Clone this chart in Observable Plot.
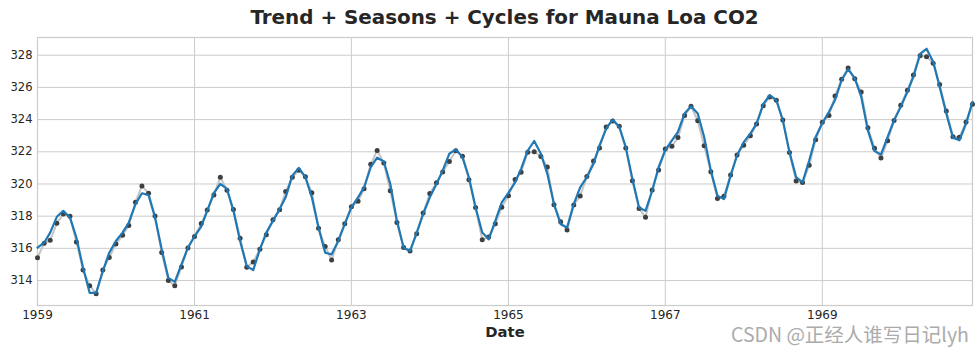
<!DOCTYPE html>
<html>
<head>
<meta charset="utf-8">
<script src="https://cdn.jsdelivr.net/npm/d3@7"></script>
<script src="https://cdn.jsdelivr.net/npm/@observablehq/plot@0.6"></script>
<style>
  body { margin: 0; background: #fff; }
  #wrap { position: relative; width: 980px; height: 351px; }
  #title { height: 30px; line-height: 36px; font-family: "DejaVu Sans", sans-serif; font-weight: bold;
           font-size: 19.9px; color: #262626; text-align: center; padding-left: 37px; padding-right: 8px; white-space: nowrap; }
  #wm { position: absolute; left: 731px; top: 324px; line-height: 1; font-family: "Noto Sans CJK SC", "Noto Sans", sans-serif;
        font-size: 19.5px; color: #ababab; white-space: nowrap; }
</style>
</head>
<body>
<div id="wrap">
  <div id="title">Trend + Seasons + Cycles for Mauna Loa CO2</div>
  <div id="chart"></div>
  <div id="wm">CSDN @正经人谁写日记lyh</div>
</div>
<script>
// Observed monthly CO2 (ppm), Jan 1959 – Dec 1970
const co2 = [
  315.42, 316.31, 316.50, 317.56, 318.13, 318.00, 316.39, 314.65, 313.68, 313.18, 314.66, 315.43,
  316.27, 316.81, 317.42, 318.87, 319.87, 319.43, 318.01, 315.74, 314.00, 313.68, 314.84, 316.03,
  316.73, 317.54, 318.38, 319.31, 320.42, 319.61, 318.42, 316.63, 314.83, 315.16, 315.94, 316.85,
  317.78, 318.40, 319.53, 320.42, 320.85, 320.45, 319.45, 317.25, 316.11, 315.27, 316.53, 317.53,
  318.58, 318.92, 319.70, 321.22, 322.08, 321.31, 319.58, 317.61, 316.05, 315.83, 316.91, 318.20,
  319.41, 320.07, 320.74, 321.40, 322.06, 321.73, 320.27, 318.54, 316.54, 316.71, 317.53, 318.55,
  319.27, 320.28, 320.73, 321.97, 322.00, 321.71, 321.05, 318.71, 317.66, 317.14, 318.70, 319.25,
  320.46, 321.43, 322.23, 323.54, 323.91, 323.59, 322.24, 320.20, 318.48, 317.94, 319.63, 320.87,
  322.17, 322.34, 322.88, 324.25, 324.83, 323.93, 322.38, 320.76, 319.10, 319.24, 320.56, 321.80,
  322.40, 322.99, 323.73, 324.86, 325.40, 325.20, 323.98, 321.95, 320.18, 320.09, 321.16, 322.74,
  323.83, 324.26, 325.47, 326.50, 327.21, 326.54, 325.72, 323.50, 322.22, 321.62, 322.69, 323.95,
  324.89, 325.82, 326.77, 327.97, 327.91, 327.50, 326.18, 324.53, 322.93, 322.90, 323.85, 324.96
];
// Fitted: trend + seasons + cycles
const fitted = [
  316.04, 316.35, 316.98, 317.96, 318.33, 317.92, 316.67, 314.79, 313.23, 313.23, 314.58, 315.73,
  316.46, 316.98, 317.60, 318.75, 319.42, 319.31, 317.92, 315.94, 314.17, 313.92, 315.00, 316.04,
  316.75, 317.35, 318.33, 319.44, 320.00, 319.69, 318.33, 316.46, 314.90, 314.65, 315.94, 316.98,
  317.71, 318.44, 319.17, 320.52, 321.00, 320.42, 319.17, 317.29, 315.73, 315.63, 316.46, 317.50,
  318.55, 319.17, 319.79, 321.04, 321.63, 321.40, 320.00, 317.71, 316.04, 315.83, 316.98, 318.13,
  319.17, 320.00, 320.83, 321.88, 322.15, 321.67, 320.42, 318.54, 316.98, 316.56, 317.71, 318.85,
  319.45, 320.10, 320.94, 322.08, 322.67, 321.88, 320.63, 318.75, 317.50, 317.29, 318.75, 319.79,
  320.42, 321.25, 322.40, 323.44, 324.00, 323.54, 322.29, 320.31, 318.54, 318.33, 319.58, 321.04,
  322.10, 322.71, 323.23, 324.38, 324.83, 324.38, 322.92, 320.83, 319.27, 319.06, 320.52, 321.77,
  322.60, 323.13, 323.75, 324.96, 325.52, 325.21, 323.96, 321.98, 320.42, 320.10, 321.46, 322.92,
  323.79, 324.48, 325.21, 326.46, 327.13, 326.56, 325.42, 323.33, 322.04, 321.83, 322.92, 323.96,
  324.79, 325.73, 326.67, 328.08, 328.40, 327.60, 326.04, 324.38, 322.88, 322.71, 323.75, 325.10
];
const startMonth = "1959-01-01";
const xTickYears = [1959, 1961, 1963, 1965, 1967, 1969];
const yTicks = [314, 316, 318, 320, 322, 324, 326, 328];

const dates = d3.utcMonth.range(new Date(startMonth), new Date("1971-01-01")).slice(0, co2.length);
const data = dates.map((d, i) => ({date: d, co2: co2[i], fit: fitted[i]}));
const xTicks = xTickYears.map(y => new Date(Date.UTC(y, 0, 1)));

const font = "DejaVu Sans, sans-serif";
const chart = Plot.plot({
  width: 980,
  height: 321,
  marginTop: 7,
  marginBottom: 46,
  marginLeft: 37,
  marginRight: 8,
  style: {fontFamily: font, fontSize: "11.6px", color: "#262626", background: "#fff"},
  x: {type: "utc", domain: [dates[0], dates[dates.length - 1]]},
  y: {domain: [312.45, 329.1]},
  marks: [
    Plot.gridX(xTicks, {stroke: "#cccccc", strokeOpacity: 1, strokeWidth: 1}),
    Plot.gridY(yTicks, {stroke: "#cccccc", strokeOpacity: 1, strokeWidth: 1}),
    Plot.frame({stroke: "#cccccc", strokeWidth: 1.2}),
    Plot.lineY(data, {x: "date", y: "co2", stroke: "#c4c4c4", strokeWidth: 2}),
    Plot.dot(data, {x: "date", y: "co2", r: 2.5, fill: "#3f3f3f", stroke: "none"}),
    Plot.lineY(data, {x: "date", y: "fit", stroke: "#1f77b4", strokeWidth: 2.2}),
    Plot.axisX(xTicks, {tickSize: 0, tickPadding: 5, tickFormat: d3.utcFormat("%Y"), label: null, fill: "#262626", fontSize: 12}),
    Plot.axisY(yTicks, {tickSize: 0, tickPadding: 5, label: null, fill: "#262626", fontSize: 11.5}),
    Plot.text(["Date"], {frameAnchor: "bottom", dy: 31, fontWeight: "bold", fontSize: 14.8, fill: "#262626"})
  ]
});
document.getElementById("chart").appendChild(chart);
</script>
</body>
</html>
